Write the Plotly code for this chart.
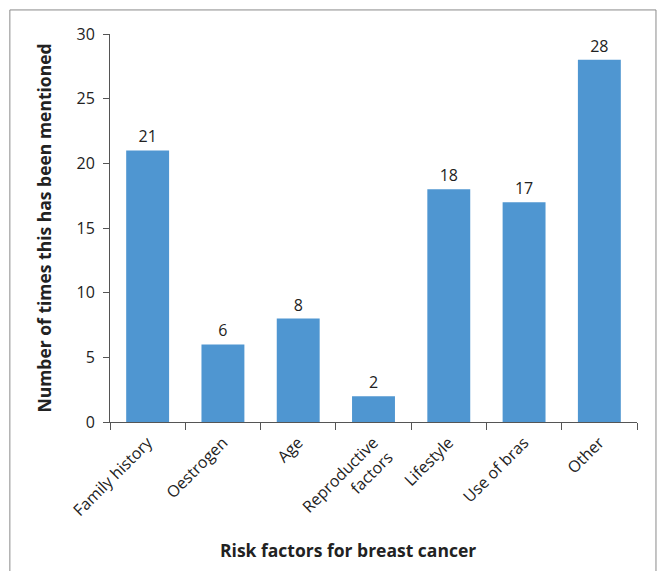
import plotly.graph_objects as go

categories = ["Family history", "Oestrogen", "Age", "Reproductive<br>factors",
              "Lifestyle", "Use of bras", "Other"]
mentions = [21, 6, 8, 2, 18, 17, 28]
y_ticks = [0, 5, 10, 15, 20, 25, 30]

bar_color = "#4F96D1"
axis_color = "#555555"
text_color = "#222222"
font_family = "Open Sans, Segoe UI, sans-serif"

fig = go.Figure(
    go.Bar(
        x=categories,
        y=mentions,
        marker=dict(color=bar_color, line=dict(width=0)),
        width=0.57,
        text=[str(v) for v in mentions],
        textposition="outside",
        textfont=dict(size=16, color=text_color, family=font_family),
        cliponaxis=False,
    )
)

fig.update_layout(
    width=660,
    height=571,
    margin=dict(l=110, r=23, t=34, b=149),
    paper_bgcolor="white",
    plot_bgcolor="white",
    showlegend=False,
    font=dict(family=font_family, color=text_color),
    xaxis=dict(
        automargin=False,
        showline=True,
        linecolor=axis_color,
        linewidth=1,
        ticks="outside",
        tickson="boundaries",
        ticklen=7,
        tickcolor=axis_color,
        tickangle=-45,
        ticklabelstandoff=4,
        tickfont=dict(size=16, color=text_color),
        showgrid=False,
    ),
    yaxis=dict(
        automargin=False,
        range=[0, 30],
        tickvals=y_ticks,
        showline=True,
        linecolor=axis_color,
        linewidth=1,
        ticks="outside",
        ticklen=6,
        tickcolor=axis_color,
        ticklabelstandoff=5,
        tickfont=dict(size=16, color=text_color),
        showgrid=False,
        zeroline=False,
        title=dict(
            text="<b>Number of times this has been mentioned</b>",
            font=dict(size=17.5, color=text_color),
            standoff=20,
        ),
    ),
    annotations=[
        dict(
            text="<b>Risk factors for breast cancer</b>",
            xref="paper",
            yref="paper",
            x=0.452,
            y=-0.33,
            xanchor="center",
            yanchor="middle",
            showarrow=False,
            font=dict(size=17.5, color=text_color),
        )
    ],
    shapes=[
        dict(
            type="rect",
            xref="paper",
            yref="paper",
            x0=-0.19,
            x1=1.036,
            y0=-0.5,
            y1=1.062,
            line=dict(color="#8a8a8a", width=1),
            fillcolor="rgba(0,0,0,0)",
            layer="below",
        )
    ],
)

fig.write_html("out.html")
